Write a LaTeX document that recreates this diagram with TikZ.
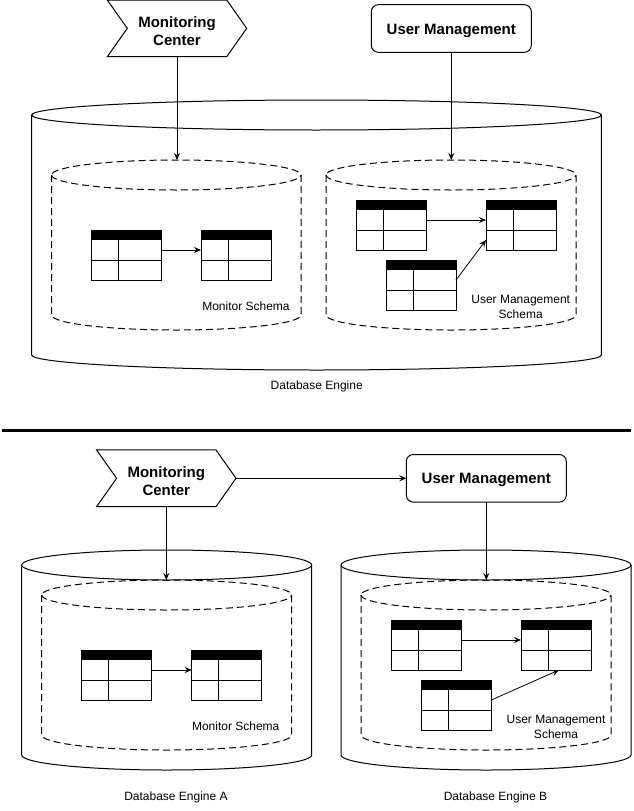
\documentclass[tikz,border=0pt]{standalone}
\usepackage{fontspec}
\setmainfont{Liberation Sans}
\usetikzlibrary{arrows.meta}
\newcommand{\dbcyl}[6]{%
  \draw[#1] (#2,#3+15) -- (#2,#5-15) arc[start angle=180,end angle=360,x radius=#6pt,y radius=15pt] -- (#4,#3+15) arc[start angle=0,end angle=180,x radius=#6pt,y radius=15pt] -- cycle;
  \draw[#1] (#2,#3+15) arc[start angle=180,end angle=360,x radius=#6pt,y radius=15pt];
}
\newcommand{\dbtable}[3]{%
  \node[tblbox,anchor=north west] (#1) at (#2,#3) {};
  \fill (#1.north west) rectangle ([yshift=-10pt]#1.north east);
  \draw[thinline] ([yshift=-30pt]#1.north west) -- ([yshift=-30pt]#1.north east);
  \draw[thinline] ([xshift=27pt,yshift=-10pt]#1.north west) -- ([xshift=27pt]#1.south west);
}
\begin{document}
\begin{tikzpicture}[x=1pt,y=-1pt,
  thinline/.style={line width=1pt},
  outercyl/.style={line width=1pt},
  innercyl/.style={line width=1pt,dash pattern=on 7pt off 4pt},
  tblbox/.style={draw,line width=1pt,minimum width=70pt,minimum height=50pt,inner sep=0pt,outer sep=0pt},
  stepbox/.style={minimum width=139.4pt,minimum height=56.7pt,inner sep=0pt,outer sep=0pt},
  steptext/.style={inner sep=0pt,align=center,font=\fontsize{15pt}{17.5pt}\selectfont\bfseries},
  umbox/.style={draw,line width=1pt,rounded corners=7pt,minimum width=160pt,minimum height=47.6pt,inner sep=0pt,outer sep=0pt,text height=11pt,text depth=0pt,font=\fontsize{15pt}{17.5pt}\selectfont\bfseries},
  lbl/.style={inner sep=0pt,align=center,font=\fontsize{12pt}{14.8pt}\selectfont},
  conn/.style={line width=1pt,-{Stealth[length=7pt,width=6pt,inset=2.5pt]}},
  thinconn/.style={line width=0.8pt,-{Stealth[length=7pt,width=6pt,inset=2.5pt]}}
]
\fill[white] (0,0) rectangle (634,811);
\useasboundingbox (0,0) rectangle (634,811);

% ===== Top section =====
\dbcyl{outercyl}{31.7}{100}{601.3}{370}{284.8}
\dbcyl{innercyl}{51.5}{160}{301}{330}{124.75}
\dbcyl{innercyl}{326}{160}{576}{330}{125}
\coordinate (ds1) at (176.25,160);
\coordinate (ds2) at (451,160);

\node[stepbox] (mc1) at (177,28.35) {};
\draw[thinline] (mc1.north west) -- ([xshift=-20pt]mc1.north east) -- (mc1.east) -- ([xshift=-20pt]mc1.south east) -- (mc1.south west) -- ([xshift=20pt]mc1.west) -- cycle;
\node[steptext] (mc1txt) at ([yshift=-3pt]mc1.center) {Monitoring\\Center};
\node[umbox] (um1) at (451.3,28.5) {User Management};

\dbtable{ta1}{91}{230}
\dbtable{tb1}{201}{230}
\dbtable{tc1}{356}{200}
\dbtable{td1}{486}{200}
\dbtable{te1}{386}{260}

\node[lbl] (ms1) at (246,306.5) {Monitor Schema};
\node[lbl] (us1) at (520.7,307) {User Management\\Schema};
\node[lbl] (de1) at (316.7,386.5) {Database Engine};

\draw[conn] (mc1.south) -- (mc1.south |- ds1);
\draw[conn] (um1.south) -- (um1.south |- ds2);
\draw[conn] ([yshift=-20pt]ta1.north east) -- ([yshift=-20pt]tb1.north west);
\draw[conn] ([yshift=-20pt]tc1.north east) -- ([yshift=-20pt]td1.north west);
\draw[thinconn] ([yshift=-20pt]te1.north east) -- ([yshift=-40pt]td1.north west);

% ===== Separator =====
\coordinate (sepL) at (1.7,430);
\coordinate (sepR) at (631,430);
\draw[line width=3pt] (sepL) -- (sepR);

% ===== Bottom section =====
\dbcyl{outercyl}{21.7}{550}{311.7}{770}{145}
\dbcyl{innercyl}{41.7}{580}{291.7}{750}{125}
\dbcyl{outercyl}{341}{550}{631}{770}{145}
\dbcyl{innercyl}{361}{580}{611}{750}{125}
\coordinate (ds3) at (166.7,580);
\coordinate (ds4) at (486,580);

\node[stepbox] (mc2) at (166.3,478.3) {};
\draw[thinline] (mc2.north west) -- ([xshift=-20pt]mc2.north east) -- (mc2.east) -- ([xshift=-20pt]mc2.south east) -- (mc2.south west) -- ([xshift=20pt]mc2.west) -- cycle;
\node[steptext] (mc2txt) at ([yshift=-3pt]mc2.center) {Monitoring\\Center};
\node[umbox] (um2) at (486.3,478.3) {User Management};

\dbtable{ta2}{81.7}{650}
\dbtable{tb2}{191.7}{650}
\dbtable{tc2}{391}{620}
\dbtable{td2}{521}{620}
\dbtable{te2}{421.3}{680}

\node[lbl] (ms2) at (235.7,726.7) {Monitor Schema};
\node[lbl] (us2) at (556,727.3) {User Management\\Schema};
\node[lbl] (de2) at (176,797.5) {Database Engine A};
\node[lbl] (de3) at (495.5,797.5) {Database Engine B};

\draw[conn] (mc2.south) -- (mc2.south |- ds3);
\draw[conn] (um2.south) -- (um2.south |- ds4);
\draw[conn] (mc2.east) -- (um2.west);
\draw[conn] ([yshift=-20pt]ta2.north east) -- ([yshift=-20pt]tb2.north west);
\draw[conn] ([yshift=-20pt]tc2.north east) -- ([yshift=-20pt]td2.north west);
\draw[thinconn] ([yshift=-20pt]te2.north east) -- ([xshift=3pt]td2.south);
\end{tikzpicture}
\end{document}
